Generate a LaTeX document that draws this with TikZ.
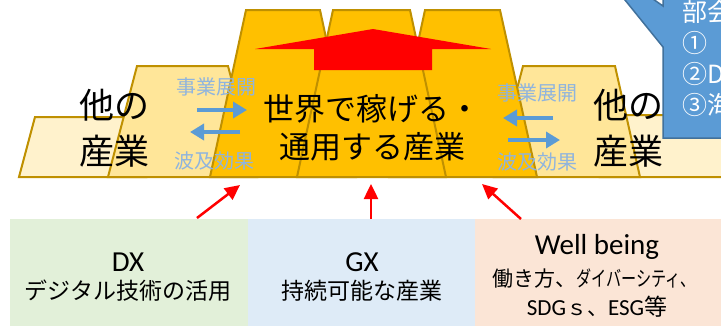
\documentclass[tikz,border=0pt]{standalone}
\usepackage{fontspec}
\usepackage{graphicx}
\setmainfont{Carlito}
\newfontfamily\jp{Noto Sans CJK JP}
\usetikzlibrary{arrows.meta}

\definecolor{gold}{HTML}{FFC000}
\definecolor{goldline}{HTML}{BF9000}
\definecolor{paleyellow}{HTML}{FFE699}
\definecolor{cream}{HTML}{FFF2CC}
\definecolor{calloutblue}{HTML}{5B9BD5}
\definecolor{calloutline}{HTML}{41719C}
\definecolor{flowtext}{HTML}{8FB4DE}
\definecolor{dxgreen}{HTML}{E2F0D9}
\definecolor{gxblue}{HTML}{DEEBF7}
\definecolor{wbpeach}{HTML}{FBE5D6}

\tikzset{
  block/.style={draw=goldline, line width=2pt, line join=miter},
  flow/.style={-{Triangle[length=14pt,width=16pt]}, draw=calloutblue, line width=3.5pt},
  push/.style={-{Triangle[length=15pt,width=14pt]}, draw=red, line width=2.5pt},
  flowlabel/.style={text=flowtext, inner sep=0pt, font=\jp\fontsize{20}{20}\selectfont},
  sidelabel/.style={align=center, inner sep=0pt, font=\jp\fontsize{35}{46}\selectfont},
  panel/.style={inner sep=0pt, outer sep=0pt, minimum height=107pt, anchor=north west},
  headline/.style={inner sep=0pt, font=\fontsize{29}{29}\selectfont},
  subline/.style={inner sep=0pt, font=\jp\fontsize{23}{23}\selectfont}
}

\begin{document}
\begin{tikzpicture}[x=1pt,y=-1pt]
\useasboundingbox (0,0) rectangle (721,325);
\clip (0,0) rectangle (721,325);

% other industries, left and right
\draw[block, fill=cream] (19,177) -- (35,117) -- (130,117) -- (146,177) -- cycle;
\draw[block, fill=paleyellow] (108,177) -- (137,66) -- (228,66) -- (257,177) -- cycle;
\draw[block, fill=cream] (600,177) -- (615,115) -- (740,115) -- (740,177) -- cycle;
\draw[block, fill=paleyellow] (494,177) -- (523,66) -- (615,66) -- (640,177) -- cycle;

% the main industry, three blocks
\draw[block, fill=gold] (210,177) -- (246,10) -- (320,10) -- (356,177) -- cycle;
\draw[block, fill=gold] (389,177) -- (425,10) -- (500,10) -- (537,177) -- cycle;
\draw[block, fill=gold] (297,177) -- (333,10) -- (410,10) -- (446,177) -- cycle;

% big red arrow on top
\fill[red] (314,70) -- (314,49) -- (255,49) -- (373,29) -- (491,49) -- (432,49) -- (432,70) -- cycle;

% labels on the blocks
\node[align=center, inner sep=0pt, font=\jp\fontsize{31}{38}\selectfont] (world) at (372,128) {世界で稼げる・\\通用する産業};
\node[sidelabel] (otherL) at (114,128) {他の\\産業};
\node[sidelabel] (otherR) at (628,128) {他の\\産業};

\node[flowlabel] (expandL) at (216,87) {事業展開};
\node[flowlabel] (spillL) at (214,161) {波及効果};
\node[flowlabel] (expandR) at (537,93) {事業展開};
\node[flowlabel] (spillR) at (537,162) {波及効果};

% flows between the industries
\coordinate (fl1) at (197,110);
\coordinate (fl2) at (247,110);
\coordinate (fl3) at (240,132);
\coordinate (fl4) at (190,132);
\coordinate (fr1) at (553,118);
\coordinate (fr2) at (503,118);
\coordinate (fr3) at (508,140);
\coordinate (fr4) at (560,140);
\draw[flow] (fl1) -- (fl2);
\draw[flow] (fl3) -- (fl4);
\draw[flow] (fr1) -- (fr2);
\draw[flow] (fr3) -- (fr4);

% callout, cut by the edge
\draw[fill=calloutblue, draw=calloutline, line width=1.5pt, line join=miter]
  (663,138) -- (663,47) -- (587,-47) -- (663,6) -- (663,-60) -- (760,-60) -- (760,138) -- cycle;
\node[anchor=west, align=left, inner sep=0pt, text=white, font=\jp\fontsize{25}{31}\selectfont] (bukai) at (682,59) {部会\\①\\②DX\\③海外};

% the three drivers
\node[panel, fill=dxgreen, minimum width=238pt] (dx) at (10,219) {};
\node[panel, fill=gxblue, minimum width=227pt] (gx) at (248,219) {};
\node[panel, fill=wbpeach, minimum width=250pt] (wb) at (475,219) {};

\node[headline] (dxhead) at (128,262) {DX};
\node[subline] (dxsub) at (128,291) {デジタル技術の活用};
\node[headline] (gxhead) at (362,262) {GX};
\node[subline] (gxsub) at (362,291) {持続可能な産業};
\node[headline] (wbhead) at (597,247) {Well being};
\node[inner sep=0pt, font=\jp\fontsize{21}{21}\selectfont] (wbsub) at (594,279) {働き方、\scalebox{0.72}[1]{ダイバーシティ、}};
\node[inner sep=0pt, font=\fontsize{23}{23}\selectfont] (wbsub2) at (597,307) {SDG{\jp\fontsize{21}{21}\selectfont ｓ、}ESG{\jp 等}};

% red arrows up into the blocks
\coordinate (dxfoot) at (197,218);
\coordinate (dxtip) at (240,185);
\coordinate (gxfoot) at (371,219);
\coordinate (gxtip) at (371,184);
\coordinate (wbfoot) at (521,219);
\coordinate (wbtip) at (482,184);
\draw[push] (dxfoot) -- (dxtip);
\draw[push] (gxfoot) -- (gxtip);
\draw[push] (wbfoot) -- (wbtip);
\end{tikzpicture}
\end{document}
